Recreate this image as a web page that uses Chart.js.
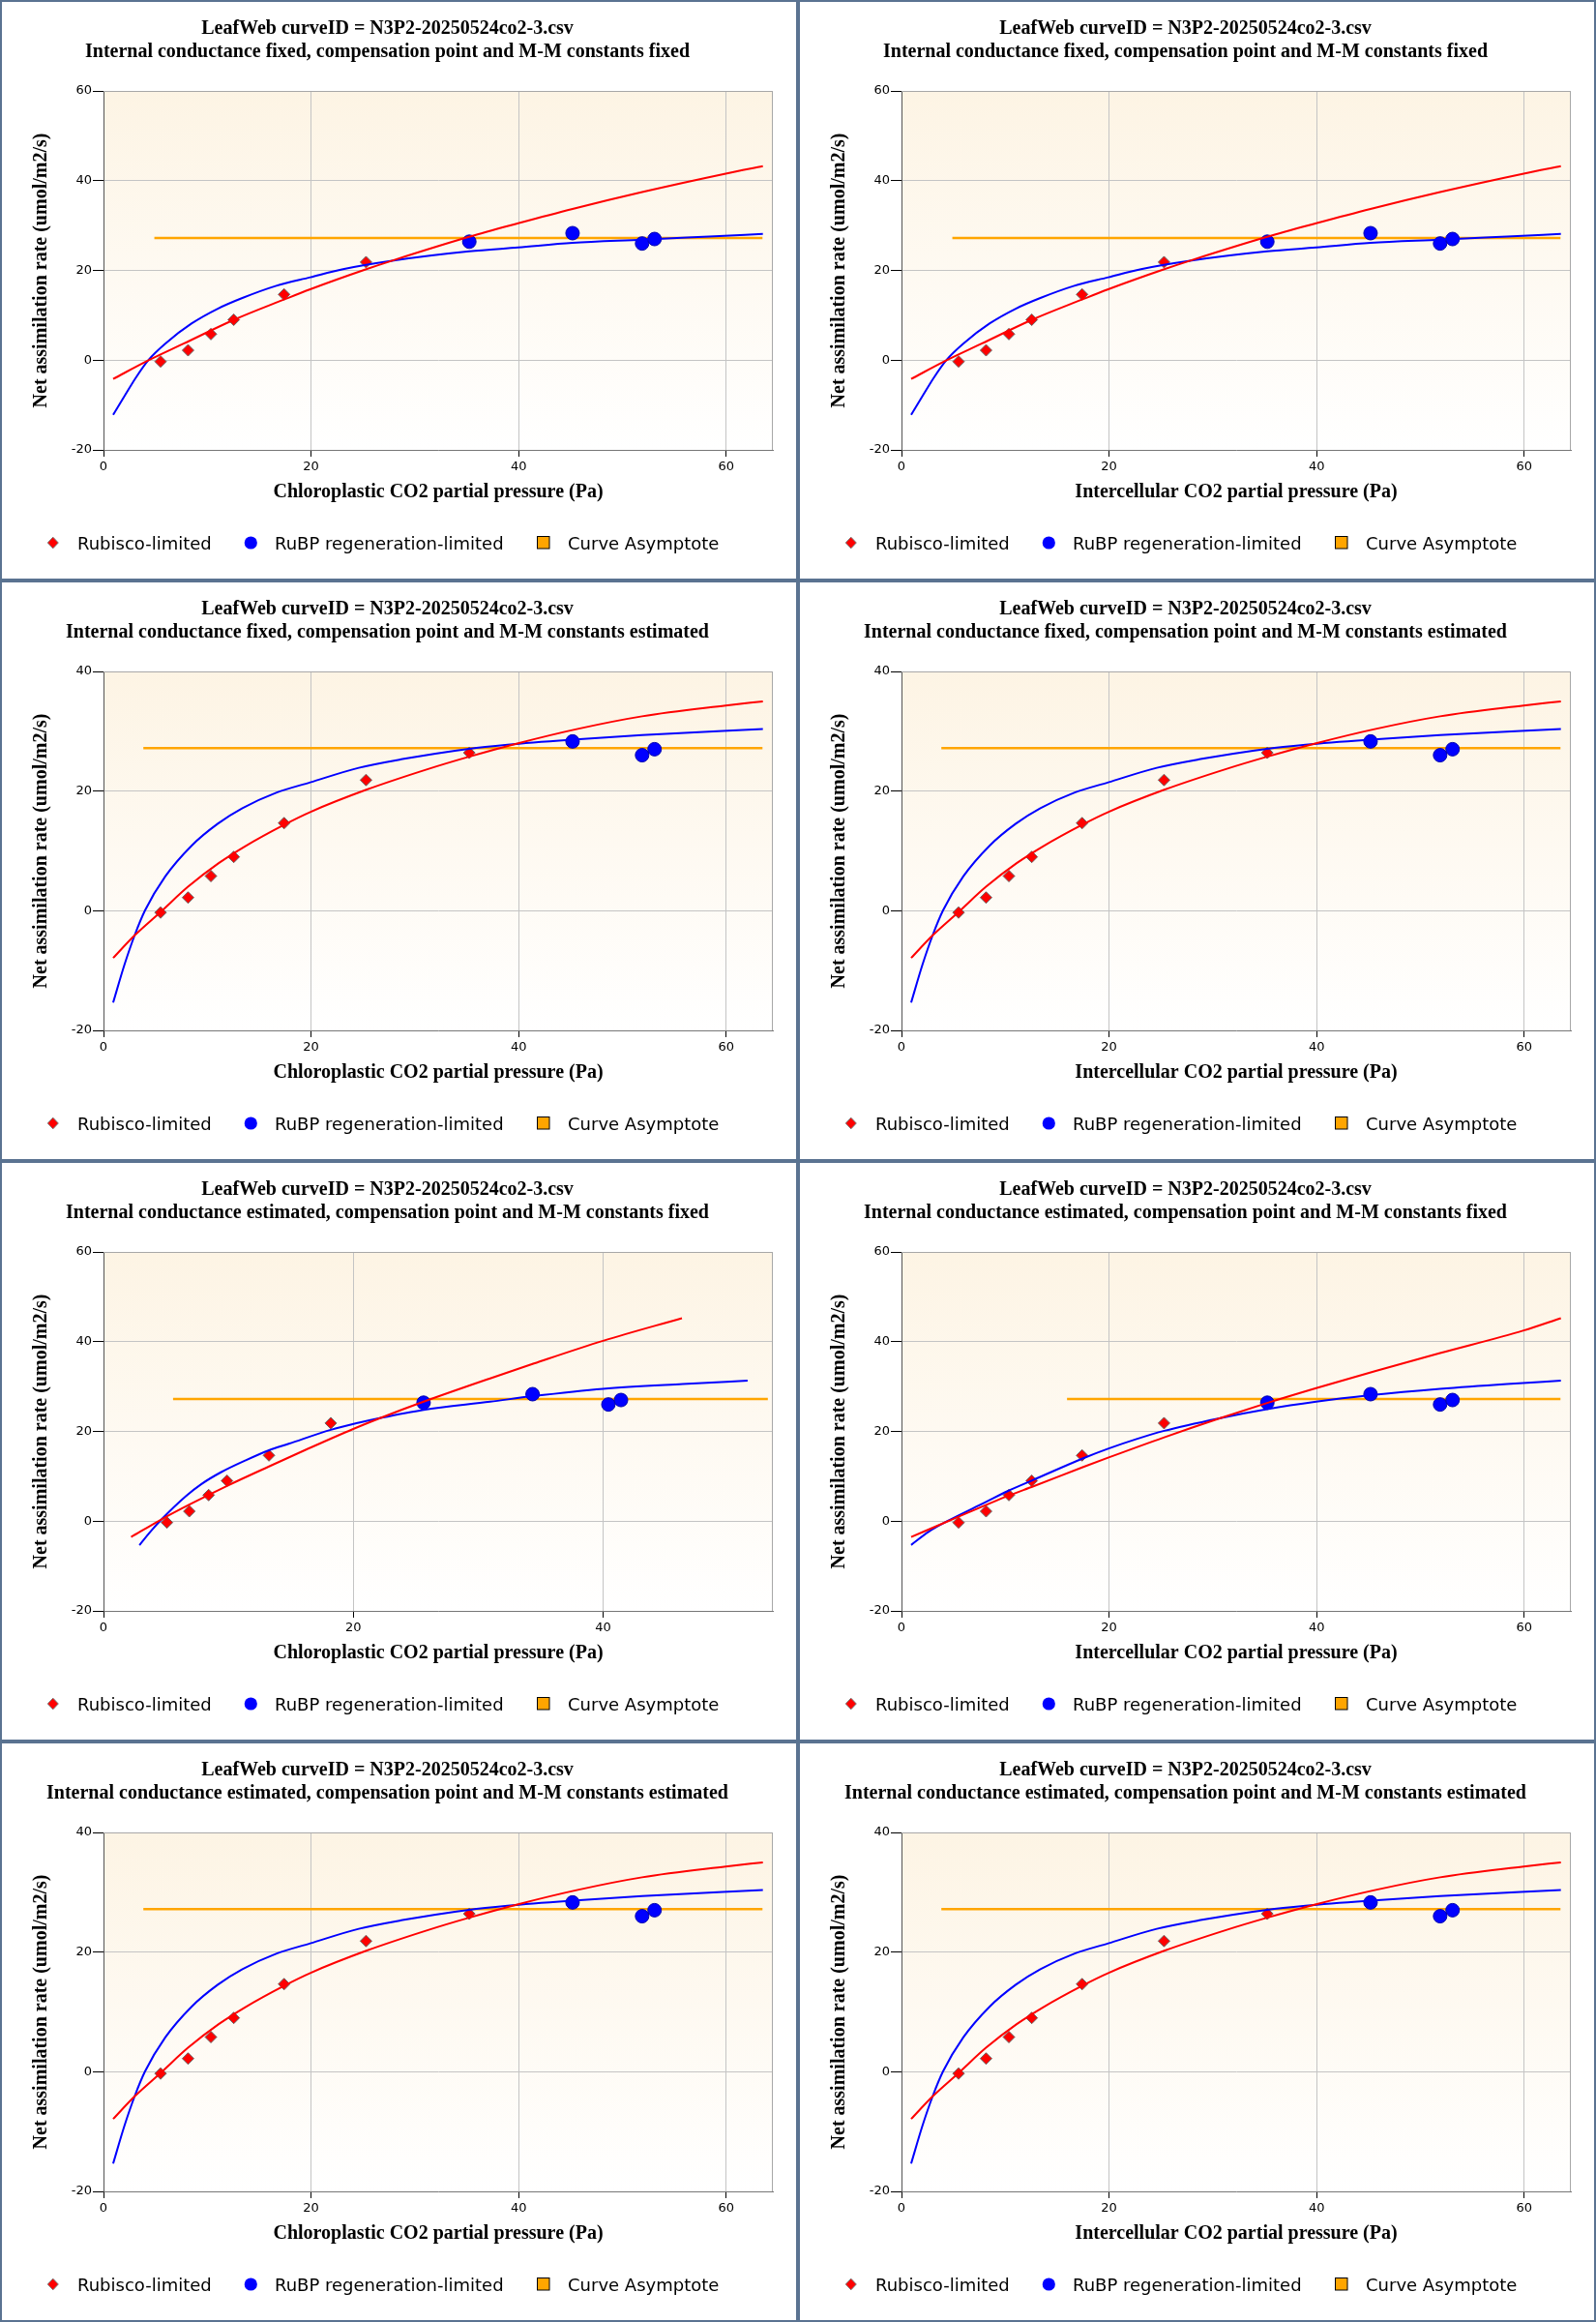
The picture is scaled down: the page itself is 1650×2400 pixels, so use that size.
<!DOCTYPE html>
<html><head><meta charset="utf-8">
<script src="https://cdn.jsdelivr.net/npm/chart.js@4.4.0/dist/chart.umd.min.js"></script>
<style>
body{margin:0;background:#fff;}
#grid{display:grid;grid-template-columns:825px 825px;grid-auto-rows:600px;width:1650px;}
.panel{box-sizing:border-box;border:2px solid #5a7391;width:825px;height:600px;background:#fff;}
canvas{display:block;}
</style></head><body><div id="grid"></div><script>
// ---------------- data ----------------
const curveTitle = 'LeafWeb curveID = N3P2-20250524co2-3.csv';
const subTitles = [
  'Internal conductance fixed, compensation point and M-M constants fixed',
  'Internal conductance fixed, compensation point and M-M constants estimated',
  'Internal conductance estimated, compensation point and M-M constants fixed',
  'Internal conductance estimated, compensation point and M-M constants estimated'
];
const xTitles = ['Chloroplastic CO2 partial pressure (Pa)', 'Intercellular CO2 partial pressure (Pa)'];
const yTitle = 'Net assimilation rate (umol/m2/s)';
const legendLabels = ['Rubisco-limited', 'RuBP regeneration-limited', 'Curve Asymptote'];
const xTickValues = [0, 20, 40, 60];
const yTicks60 = [-20, 0, 20, 40, 60];
const yTicks40 = [-20, 0, 20, 40];

// measured points
const obsCi = [5.5, 8.15, 10.35, 12.55, 17.4, 25.3, 35.25, 45.2, 51.9, 53.1];
const obsCcEst = [5.08, 6.87, 8.42, 9.89, 13.25, 18.2, 25.63, 34.36, 40.43, 41.44];
const obsA = [-0.3, 2.2, 5.8, 9.0, 14.65, 21.85, 26.4, 28.3, 26.0, 27.0];
const limitKFixed = ['c','c','c','c','c','c','j','j','j','j'];
const limitKEst   = ['c','c','c','c','c','c','c','j','j','j'];

// asymptote
const asymptoteA = 27.2;
const asymRangeA = [4.9, 63.5];
const asymRangeB = [3.84, 63.5];
const asymRangeC = [5.57, 53.2];
const asymRangeD = [15.95, 63.5];

// fitted curves [x, A]
const rubiscoCurveA = [[0.93,-4.18],[4.43,0.07],[7.72,3.68],[12.53,8.95],[17.38,13.49],[19.92,15.8],[25.32,20.27],[27.97,22.3],[35.23,27.49],[39.96,30.5],[45.19,33.69],[51.9,37.45],[59.96,41.56],[63.54,43.22]];
const rubpCurveA = [[0.93,-12.19],[2.03,-8.0],[3.08,-4.04],[4.35,0.07],[5.95,3.68],[8.48,8.15],[11.01,11.47],[13.38,13.85],[16.58,16.52],[19.92,18.47],[23.08,20.27],[27.97,22.2],[35.23,24.24],[39.96,25.11],[45.19,26.12],[51.9,26.84],[58.35,27.56],[63.54,28.14]];
const rubiscoCurveB = [[0.93,-7.89],[3.0,-4.11],[5.49,-0.22],[8.14,4.0],[11.1,7.95],[13.63,10.76],[17.38,14.35],[19.92,16.5],[25.32,20.22],[31.35,23.73],[35.23,25.75],[39.96,28.0],[45.7,30.4],[51.9,32.5],[59.96,34.3],[63.54,35.0]];
const rubpCurveB = [[0.93,-15.35],[2.03,-8.97],[3.0,-4.11],[4.0,0.05],[5.95,5.73],[8.48,10.86],[11.01,14.54],[13.38,17.14],[16.58,19.68],[19.92,21.46],[24.6,23.89],[28.82,25.35],[35.23,27.08],[38.94,27.75],[45.19,28.59],[51.9,29.35],[63.54,30.38]];
const rubiscoCurveC = [[2.21,-3.54],[4.66,0.43],[6.87,3.68],[9.89,7.86],[13.25,12.19],[16.23,15.95],[19.95,20.49],[22.2,23.02],[25.63,26.62],[30.96,31.82],[34.47,35.14],[40.0,40.19],[46.32,45.24]];
const rubpCurveC = [[2.88,-5.34],[3.79,-2.24],[4.66,0.43],[6.59,5.56],[7.82,8.23],[9.4,10.89],[11.33,13.49],[13.25,15.8],[14.83,17.24],[18.2,20.35],[20.44,21.93],[22.2,23.02],[25.63,24.82],[30.96,26.62],[34.36,27.85],[40.0,29.51],[46.39,30.59],[51.58,31.31]];
const rubiscoCurveD = [[0.93,-3.54],[4.6,0.1],[10.38,5.75],[12.71,7.76],[17.52,12.08],[19.97,14.2],[25.32,18.69],[30.51,22.8],[35.23,26.33],[39.96,29.65],[45.7,33.48],[51.9,37.45],[59.96,42.5],[63.54,45.24]];
const rubpCurveD = [[0.93,-5.3],[2.66,-2.3],[4.47,0.07],[8.05,4.17],[10.22,6.68],[12.71,9.2],[17.52,14.02],[19.97,16.2],[22.65,18.3],[25.32,20.13],[30.51,22.87],[35.23,24.96],[39.96,26.62],[45.19,28.07],[51.9,29.51],[58.35,30.59],[63.54,31.31]];

// ---------------- panels ----------------
const panelA = {sub:0, xt:0, xMax:64.5, yMax:60, yTicks:yTicks60, obsX:obsCi, lim:limitKFixed, red:rubiscoCurveA, blue:rubpCurveA, asym:asymRangeA};
const panelA2 = Object.assign({}, panelA, {xt:1});
const panelB = {sub:1, xt:0, xMax:64.5, yMax:40, yTicks:yTicks40, obsX:obsCi, lim:limitKEst, red:rubiscoCurveB, blue:rubpCurveB, asym:asymRangeB};
const panelB2 = Object.assign({}, panelB, {xt:1});
const panelC = {sub:2, xt:0, xMax:53.6, yMax:60, yTicks:yTicks60, obsX:obsCcEst, lim:limitKFixed, red:rubiscoCurveC, blue:rubpCurveC, asym:asymRangeC};
const panelD = {sub:2, xt:1, xMax:64.5, yMax:60, yTicks:yTicks60, obsX:obsCi, lim:limitKFixed, red:rubiscoCurveD, blue:rubpCurveD, asym:asymRangeD};
const panelE = Object.assign({}, panelB, {sub:3});
const panelE2 = Object.assign({}, panelB2, {sub:3});
const panels = [panelA, panelA2, panelB, panelB2, panelC, panelD, panelE, panelE2];

// ---------------- plugins ----------------
const plotFrame = {
  id:'plotFrame',
  beforeDraw(chart){
    const {ctx, chartArea:a} = chart;
    const g = ctx.createLinearGradient(0, a.top, 0, a.bottom);
    g.addColorStop(0, 'rgb(253,244,228)');
    g.addColorStop(1, 'rgb(255,255,255)');
    ctx.save(); ctx.fillStyle = g;
    ctx.fillRect(a.left, a.top, a.right - a.left, a.bottom - a.top);
    ctx.restore();
  },
  beforeDatasetsDraw(chart){
    const {ctx, chartArea:a} = chart;
    ctx.save(); ctx.strokeStyle = '#a8a8a8'; ctx.lineWidth = 1;
    ctx.beginPath();
    ctx.moveTo(a.left, a.top + 0.5); ctx.lineTo(a.right, a.top + 0.5);
    ctx.moveTo(a.right - 0.5, a.top); ctx.lineTo(a.right - 0.5, a.bottom);
    ctx.stroke(); ctx.restore();
  },
  afterDraw(chart){
    const ctx = chart.ctx;
    const y = 559;
    ctx.save();
    ctx.beginPath();
    ctx.moveTo(47.3, y); ctx.lineTo(52.8, y - 5.8); ctx.lineTo(58.3, y); ctx.lineTo(52.8, y + 5.8); ctx.closePath();
    ctx.fillStyle = '#ff0000'; ctx.fill(); ctx.strokeStyle = '#777'; ctx.lineWidth = 1; ctx.stroke();
    ctx.beginPath(); ctx.arc(257.3, y, 6.6, 0, Math.PI * 2);
    ctx.fillStyle = '#0000ff'; ctx.fill();
    ctx.fillStyle = '#ffa500'; ctx.fillRect(553.5, 552.5, 12.5, 12.5);
    ctx.strokeStyle = '#000'; ctx.strokeRect(553.5, 552.5, 12.5, 12.5);
    ctx.fillStyle = '#000'; ctx.font = '18px "DejaVu Sans"'; ctx.textBaseline = 'alphabetic'; ctx.textAlign = 'left';
    ctx.fillText(legendLabels[0], 78, 566);
    ctx.fillText(legendLabels[1], 282, 566);
    ctx.fillText(legendLabels[2], 585, 566);
    ctx.restore();
  }
};

function pts(arr){ return arr.map(p => ({x:p[0], y:p[1]})); }

const grid = document.getElementById('grid');
panels.forEach(p => {
  const div = document.createElement('div'); div.className = 'panel';
  const cv = document.createElement('canvas'); cv.width = 821; cv.height = 596;
  cv.style.width = '821px'; cv.style.height = '596px';
  div.appendChild(cv); grid.appendChild(div);

  const rub = [], rbp = [];
  p.obsX.forEach((x, i) => { (p.lim[i] === 'c' ? rub : rbp).push({x:x, y:obsA[i]}); });

  new Chart(cv, {
    type:'scatter',
    data:{datasets:[
      {type:'line', label:'Rubisco curve', data:pts(p.red), borderColor:'#ff0000', borderWidth:2, pointRadius:0, fill:false, cubicInterpolationMode:'monotone', order:0},
      {type:'line', label:'RuBP curve', data:pts(p.blue), borderColor:'#0000ff', borderWidth:2, pointRadius:0, fill:false, cubicInterpolationMode:'monotone', order:1},
      {label:legendLabels[0], data:rub, pointStyle:'rectRot', pointRadius:6, backgroundColor:'#ff0000', borderColor:'#666', borderWidth:1, order:2},
      {label:legendLabels[1], data:rbp, pointStyle:'circle', pointRadius:7, backgroundColor:'#0000ff', borderColor:'#0000b0', borderWidth:1, order:3},
      {type:'line', label:legendLabels[2], data:[{x:p.asym[0], y:asymptoteA}, {x:p.asym[1], y:asymptoteA}], borderColor:'#ffa500', borderWidth:2.5, pointRadius:0, fill:false, order:4}
    ]},
    options:{
      responsive:false, animation:false,
      layout:{padding:{left:0, right:24, top:0, bottom:63}},
      plugins:{
        legend:{display:false}, tooltip:{enabled:false},
        title:{display:true, text:[curveTitle, subTitles[p.sub]], color:'#000',
          font:{family:'Liberation Serif', size:20, weight:'bold', lineHeight:1.2},
          padding:{top:15.5, bottom:28.5}}
      },
      scales:{
        x:{type:'linear', min:0, max:p.xMax,
          afterBuildTicks: s => { s.ticks = xTickValues.filter(v => v <= p.xMax).map(v => ({value:v})); },
          afterFit: s => { s.height = 70; },
          grid:{color:'#c4c4c4', tickColor:'#000', tickLength:7, lineWidth:1},
          border:{color:'#777', width:1},
          ticks:{font:{family:'DejaVu Sans', size:13}, color:'#000', padding:3, maxRotation:0},
          title:{display:true, text:xTitles[p.xt], color:'#000', font:{family:'Liberation Serif', size:20, weight:'bold'}, padding:{top:0, bottom:14}}
        },
        y:{type:'linear', min:-20, max:p.yMax,
          afterBuildTicks: s => { s.ticks = p.yTicks.map(v => ({value:v})); },
          afterFit: s => { s.width = 105; },
          grid:{color:'#c4c4c4', tickColor:'#000', tickLength:11, lineWidth:1},
          border:{color:'#555', width:1},
          ticks:{font:{family:'DejaVu Sans', size:13}, color:'#000', padding:1},
          title:{display:true, text:yTitle, color:'#000', font:{family:'Liberation Serif', size:20, weight:'bold'}, padding:{top:29, bottom:0}}
        }
      }
    },
    plugins:[plotFrame]
  });
});
</script></body></html>
